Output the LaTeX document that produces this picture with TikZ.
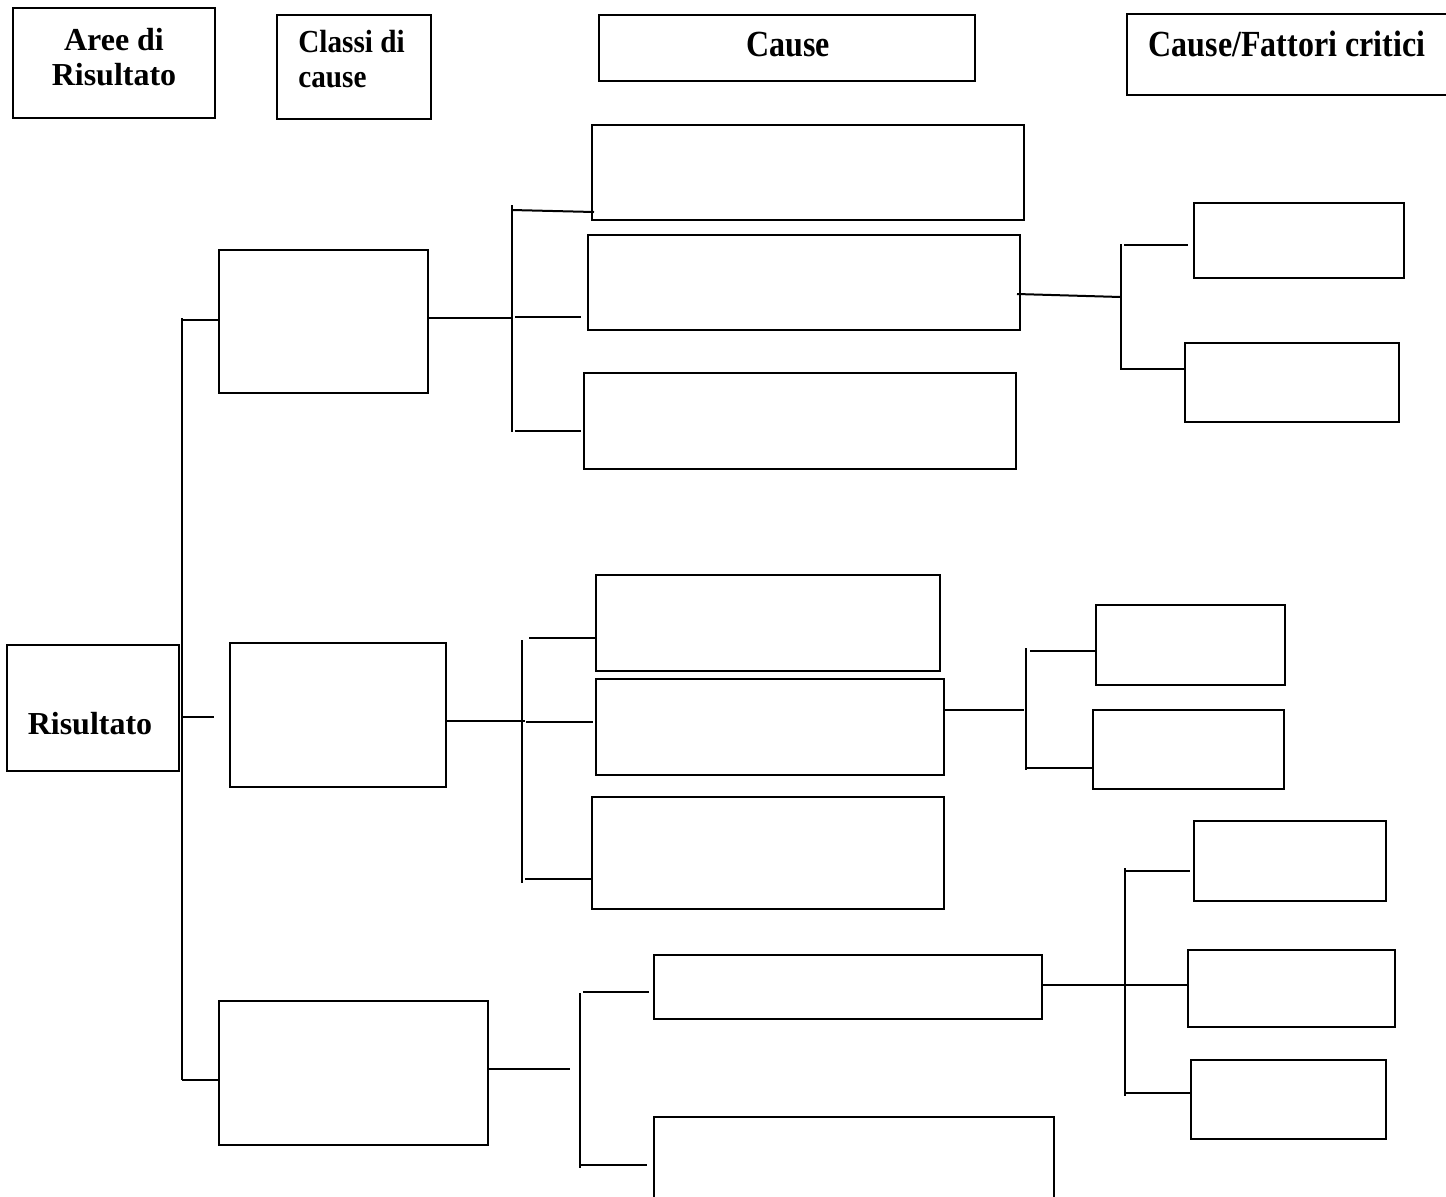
\documentclass[tikz,border=0pt]{standalone}
\usepackage{fontspec}
\usepackage{graphicx}
\setmainfont{Liberation Serif}
\newcommand\bx[5]{\node[box, minimum width={(#4-#2)*0.5pt}, minimum height={(#5-#3)*0.5pt}] (#1) at ({(#2+#4)/2},{(#3+#5)/2}) {};}
\begin{document}
\begin{tikzpicture}[x=0.5pt,y=-0.5pt,
  box/.style={draw, line width=1.2pt, rectangle, inner sep=0pt, outer sep=0pt},
  link/.style={line width=1pt},
  bar/.style={line width=1.4pt},
  lbl/.style={font=\bfseries\fontsize{16}{18}\selectfont, anchor=base, inner sep=0pt},
  lbls/.style={font=\bfseries\fontsize{14.6}{17}\selectfont, anchor=base west, inner sep=0pt}]
\useasboundingbox (0,0) rectangle (1446,1196);
% header boxes
\bx{A}{13}{8}{215}{118}
\bx{B}{277}{15}{431}{119}
\bx{C}{599}{15}{975}{81}
\bx{D}{1127}{14}{1447}{95}
\node[lbl] (tA1) at (114,50) {Aree di};
\node[lbl] (tA2) at (114,85) {Risultato};
\node[lbls] (tB1) at (298,52) {\scalebox{1}[1.1]{Classi di}};
\node[lbls] (tB2) at (298,87) {\scalebox{1}[1.1]{cause}};
\node[lbl] (tC) at (788,56) {\scalebox{1}[1.15]{Cause}};
\node[lbl] (tD) at (1287,56) {\scalebox{1}[1.15]{Cause/Fattori critici}};
% result
\bx{R}{7}{645}{179}{771}
\node[lbl] (tR) at (90,734) {Risultato};
% classes
\bx{K1}{219}{250}{428}{393}
\bx{K2}{230}{643}{446}{787}
\bx{K3}{219}{1001}{488}{1145}
% causes
\bx{c11}{592}{125}{1024}{220}
\bx{c12}{588}{235}{1020}{330}
\bx{c13}{584}{373}{1016}{469}
\bx{c21}{596}{575}{940}{671}
\bx{c22}{596}{679}{944}{775}
\bx{c23}{592}{797}{944}{909}
\bx{c31}{654}{955}{1042}{1019}
\bx{c32}{654}{1117}{1054}{1200}
% critical factors
\bx{f11}{1194}{203}{1404}{278}
\bx{f12}{1185}{343}{1399}{422}
\bx{f21}{1096}{605}{1285}{685}
\bx{f22}{1093}{710}{1284}{789}
\bx{f31}{1194}{821}{1386}{901}
\bx{f32}{1188}{950}{1395}{1027}
\bx{f33}{1191}{1060}{1386}{1139}
% main bar
\coordinate (v0t) at (182,318);
\coordinate (v0b) at (182,1080);
\draw[bar] (v0t) -- (v0b);
\coordinate (t1) at (182,320);
\coordinate (t2) at (182,717);
\coordinate (t2e) at (214,717);
\coordinate (t3) at (182,1080);
\draw[link] (t1) -- (t1 -| K1.west);
\draw[link] (t2) -- (t2e);
\draw[link] (t3) -- (t3 -| K3.west);
% group 1
\coordinate (g1) at (512,318);
\draw[link] (K1.east |- g1) -- (g1);
\coordinate (g1t) at (512,205);
\coordinate (g1b) at (512,432);
\draw[bar] (g1t) -- (g1b);
\coordinate (a11) at (512,210);
\coordinate (e11) at (594,212);
\draw[link] (a11) -- (e11);
\coordinate (a12) at (515,317);
\coordinate (e12) at (581,317);
\draw[link] (a12) -- (e12);
\coordinate (a13) at (515,431);
\coordinate (e13) at (581,431);
\draw[link] (a13) -- (e13);
\coordinate (s12) at (1017,294);
\coordinate (h1) at (1121,297);
\draw[link] (s12) -- (h1);
\coordinate (h1t) at (1121,244);
\coordinate (h1b) at (1121,370);
\draw[link] (h1t) -- (h1b);
\coordinate (b11) at (1124,245);
\coordinate (d11) at (1188,245);
\draw[link] (b11) -- (d11);
\coordinate (b12) at (1121,369);
\draw[link] (b12) -- (b12 -| f12.west);
% group 2
\coordinate (g2) at (525,721);
\draw[link] (K2.east |- g2) -- (g2);
\coordinate (g2t) at (522,640);
\coordinate (g2b) at (522,883);
\draw[bar] (g2t) -- (g2b);
\coordinate (a21) at (529,638);
\draw[link] (a21) -- (a21 -| c21.west);
\coordinate (a22) at (526,722);
\coordinate (e22) at (593,722);
\draw[link] (a22) -- (e22);
\coordinate (a23) at (525,879);
\draw[link] (a23) -- (a23 -| c23.west);
\coordinate (h2) at (1024,710);
\draw[link] (c22.east |- h2) -- (h2);
\coordinate (h2t) at (1026,648);
\coordinate (h2b) at (1026,770);
\draw[bar] (h2t) -- (h2b);
\coordinate (b21) at (1030,651);
\draw[link] (b21) -- (b21 -| f21.west);
\coordinate (b22) at (1026,768);
\draw[link] (b22) -- (b22 -| f22.west);
% group 3
\coordinate (g3) at (570,1069);
\draw[link] (K3.east |- g3) -- (g3);
\coordinate (g3t) at (580,993);
\coordinate (g3b) at (580,1168);
\draw[bar] (g3t) -- (g3b);
\coordinate (a31) at (583,992);
\coordinate (e31) at (649,992);
\draw[link] (a31) -- (e31);
\coordinate (a32) at (580,1165);
\coordinate (e32) at (647,1165);
\draw[link] (a32) -- (e32);
\coordinate (h3) at (1125,985);
\draw[link] (c31.east |- h3) -- (h3);
\coordinate (h3t) at (1125,868);
\coordinate (h3b) at (1125,1096);
\draw[bar] (h3t) -- (h3b);
\coordinate (b31) at (1125,871);
\coordinate (d31) at (1190,871);
\draw[link] (b31) -- (d31);
\draw[link] (h3) -- (h3 -| f32.west);
\coordinate (b33) at (1125,1093);
\draw[link] (b33) -- (b33 -| f33.west);
\end{tikzpicture}
\end{document}
